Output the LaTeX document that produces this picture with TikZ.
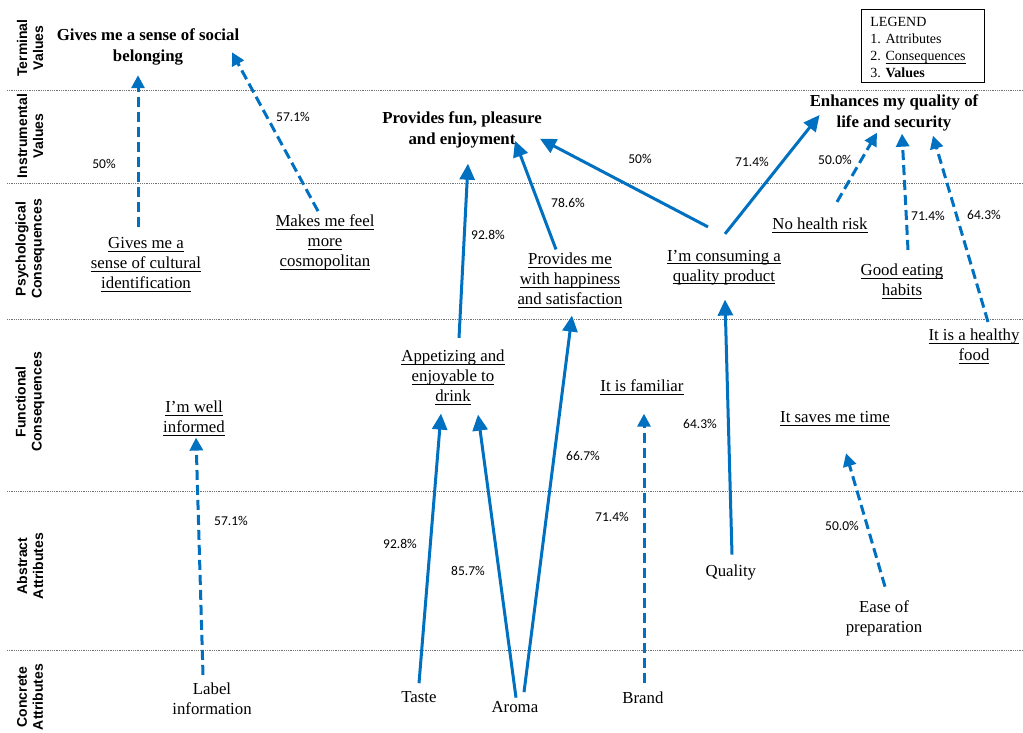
\documentclass[tikz,border=0pt]{standalone}
\usepackage{fontspec}
\setmainfont{Liberation Serif}
\newfontfamily\pctfont{Carlito}
\newfontfamily\bandfont{Liberation Sans}
\usetikzlibrary{arrows.meta}
\definecolor{mecblue}{HTML}{0070C0}
% underlined text at a fixed depth
\newcommand{\uln}[1]{\setbox0\hbox{#1}\rlap{\rule[-3.1pt]{\wd0}{0.9pt}}\box0}

\begin{document}
\begin{tikzpicture}
[
    x = 1pt, y = -1pt,
    attr/.style = {align=center,
                   inner sep=1pt,
                   yshift=-2.5pt,
                   font=\fontsize{16.8}{20}\selectfont},
    val/.style  = {attr,
                   font=\fontsize{16.8}{20.5}\selectfont\bfseries},
    band/.style = {rotate=90,
                   align=center,
                   font=\bandfont\bfseries\fontsize{14}{16}\selectfont},
    pct/.style  = {font=\pctfont\fontsize{13.5}{15}\selectfont},
    arr/.style  = {line width=3pt,
                   mecblue,
                   -{Triangle[length=16pt,width=15pt]}},
    darr/.style = {line width=3pt,
                   mecblue,
                   dash pattern=on 10pt off 5pt,
                   -{Triangle[length=13pt,width=13pt]}},
    sep/.style  = {black!55,
                   line width=0.8pt,
                   dash pattern=on 0.8pt off 1pt}
]
\useasboundingbox (0,0) rectangle (1023,733);

% level separators
\foreach \yy in {90,183,319,491,650}
    \draw[sep] (7,\yy) -- (1023,\yy);

% level names
\node (bTV) [band] at (30,48)  {Terminal\\Values};
\node (bIV) [band] at (30,136) {Instrumental\\Values};
\node (bPC) [band] at (30,249) {Psychological\\Consequences};
\node (bFC) [band] at (30,402) {Functional\\Consequences};
\node (bAA) [band] at (30,566) {Abstract\\Attributes};
\node (bCA) [band] at (30,697) {Concrete\\Attributes};

% legend
\node (legend) [draw, line width=0.8pt, anchor=north west,
                align=left, text width=105pt,
                inner xsep=9pt, inner ysep=0pt,
                minimum width=123pt, minimum height=73pt,
                font=\fontsize{14}{17}\selectfont] at (861,9) {
\rule{0pt}{13pt}LEGEND\\1.\ Attributes\\2.\ \uln{Consequences}\\3.\ \textbf{Values}
};

% values
\node (soc) [val] at (148,44.5) {
Gives me a sense of social\\belonging
};

\node (fun) [val] at (462,127.5) {
Provides fun, pleasure\\and enjoyment
};

\node (enh) [val] at (894,110.5) {
Enhances my quality of\\life and security
};

% consequences
\node (cult) [attr] at (146,262) {
\uln{Gives me a}\\\uln{sense of cultural}\\\uln{identification}
};

\node (cosmo) [attr] at (325,240) {
\uln{Makes me feel}\\\uln{more}\\\uln{cosmopolitan}
};

\node (happy) [attr] at (570,278) {
\uln{Provides me}\\\uln{with happiness}\\\uln{and satisfaction}
};

\node (qprod) [attr] at (724,265) {
\uln{I’m consuming a}\\\uln{quality product}
};

\node (nohr) [attr] at (820,223) {
\uln{No health risk}
};

\node (eat) [attr] at (902,279) {
\uln{Good eating}\\\uln{habits}
};

\node (hfood) [attr] at (974,344) {
\uln{It is a healthy}\\\uln{food}
};

\node (appet) [attr] at (453,375) {
\uln{Appetizing and}\\\uln{enjoyable to}\\\uln{drink}
};

\node (famil) [attr] at (642,385) {
\uln{It is familiar}
};

\node (informed) [attr] at (194,416) {
\uln{I’m well}\\\uln{informed}
};

\node (time) [attr] at (835,416) {
\uln{It saves me time}
};

% attributes
\node (label) [attr] at (212,696.5) {
Label\\information
};

\node (taste) [attr] at (421,694.5) {
Taste
};

\node (aroma) [attr] at (517,704.5) {
Aroma
};

\node (brand) [attr] at (645,695.5) {
Brand
};

\node (quality) [attr] at (733,570) {
Quality
};

\node (ease) [attr] at (884,616) {
Ease of\\preparation
};

% links
\draw[darr] ([xshift=-9pt,yshift=7pt]label.north)    -- ([xshift=2pt,yshift=-0.5pt]informed.south);
\draw[darr] ([xshift=-8pt,yshift=9pt]cult.north)     -- ([xshift=-10pt,yshift=-9pt]soc.south);
\draw[darr] ([xshift=-7pt,yshift=2.5pt]cosmo.north)  -- ([xshift=-8.5pt,yshift=14pt]soc.south east);
\draw[arr]  ([xshift=-2pt,yshift=7pt]taste.north)    -- ([xshift=-12pt,yshift=-7.5pt]appet.south);
\draw[arr]  ([xshift=-1pt,yshift=2.5pt]aroma.north)  -- ([xshift=25pt,yshift=-8.5pt]appet.south);
\draw[arr]  ([xshift=7pt,yshift=8pt]aroma.north)     -- ([xshift=2pt,yshift=-6.5pt]happy.south);
\draw[darr] ([xshift=-1pt,yshift=8pt]brand.north)    -- ([xshift=2pt,yshift=-17.5pt]famil.south);
\draw[arr]  ([xshift=-1pt,yshift=9pt]quality.north)  -- ([xshift=1pt,yshift=-13.5pt]qprod.south);
\draw[darr] ([xshift=1pt,yshift=13pt]ease.north)     -- ([xshift=11pt,yshift=-26.5pt]time.south);
\draw[arr]  ([xshift=6pt,yshift=11pt]appet.north)    -- ([xshift=6pt,yshift=-14.5pt]fun.south);
\draw[arr]  ([xshift=-14pt,yshift=2.5pt]happy.north) -- ([xshift=-28pt,yshift=8.5pt]fun.south east);
\draw[arr]  ([xshift=-16pt,yshift=22pt]qprod.north)  -- ([xshift=-3pt,yshift=10.5pt]fun.south east);
\draw[arr]  ([xshift=1pt,yshift=15pt]qprod.north)    -- ([xshift=11pt,yshift=-2pt]enh.west);
\draw[darr] ([xshift=17pt,yshift=15pt]nohr.north)    -- ([xshift=-17pt,yshift=-0.5pt]enh.south);
\draw[darr] ([xshift=6pt,yshift=13pt]eat.north)      -- ([xshift=8pt,yshift=-1.5pt]enh.south);
\draw[darr] ([xshift=14pt,yshift=6pt]hfood.north)    -- ([xshift=39pt,yshift=-3.5pt]enh.south);

% percentages
\foreach \px/\py/\pv [count=\i] in {104/164/50, 293/117/57.1, 231/521/57.1,
        488/235/92.8, 568/203/78.6, 640/159/50, 752/162/71.4, 835/160/50.0,
        928/216/71.4, 984/215/64.3, 400/544/92.8, 468/571/85.7, 583/456/66.7,
        612/517/71.4, 700/424/64.3, 842/526/50.0}
    \node (pc\i) [pct] at (\px,\py) {\pv\%};

\end{tikzpicture}
\end{document}
